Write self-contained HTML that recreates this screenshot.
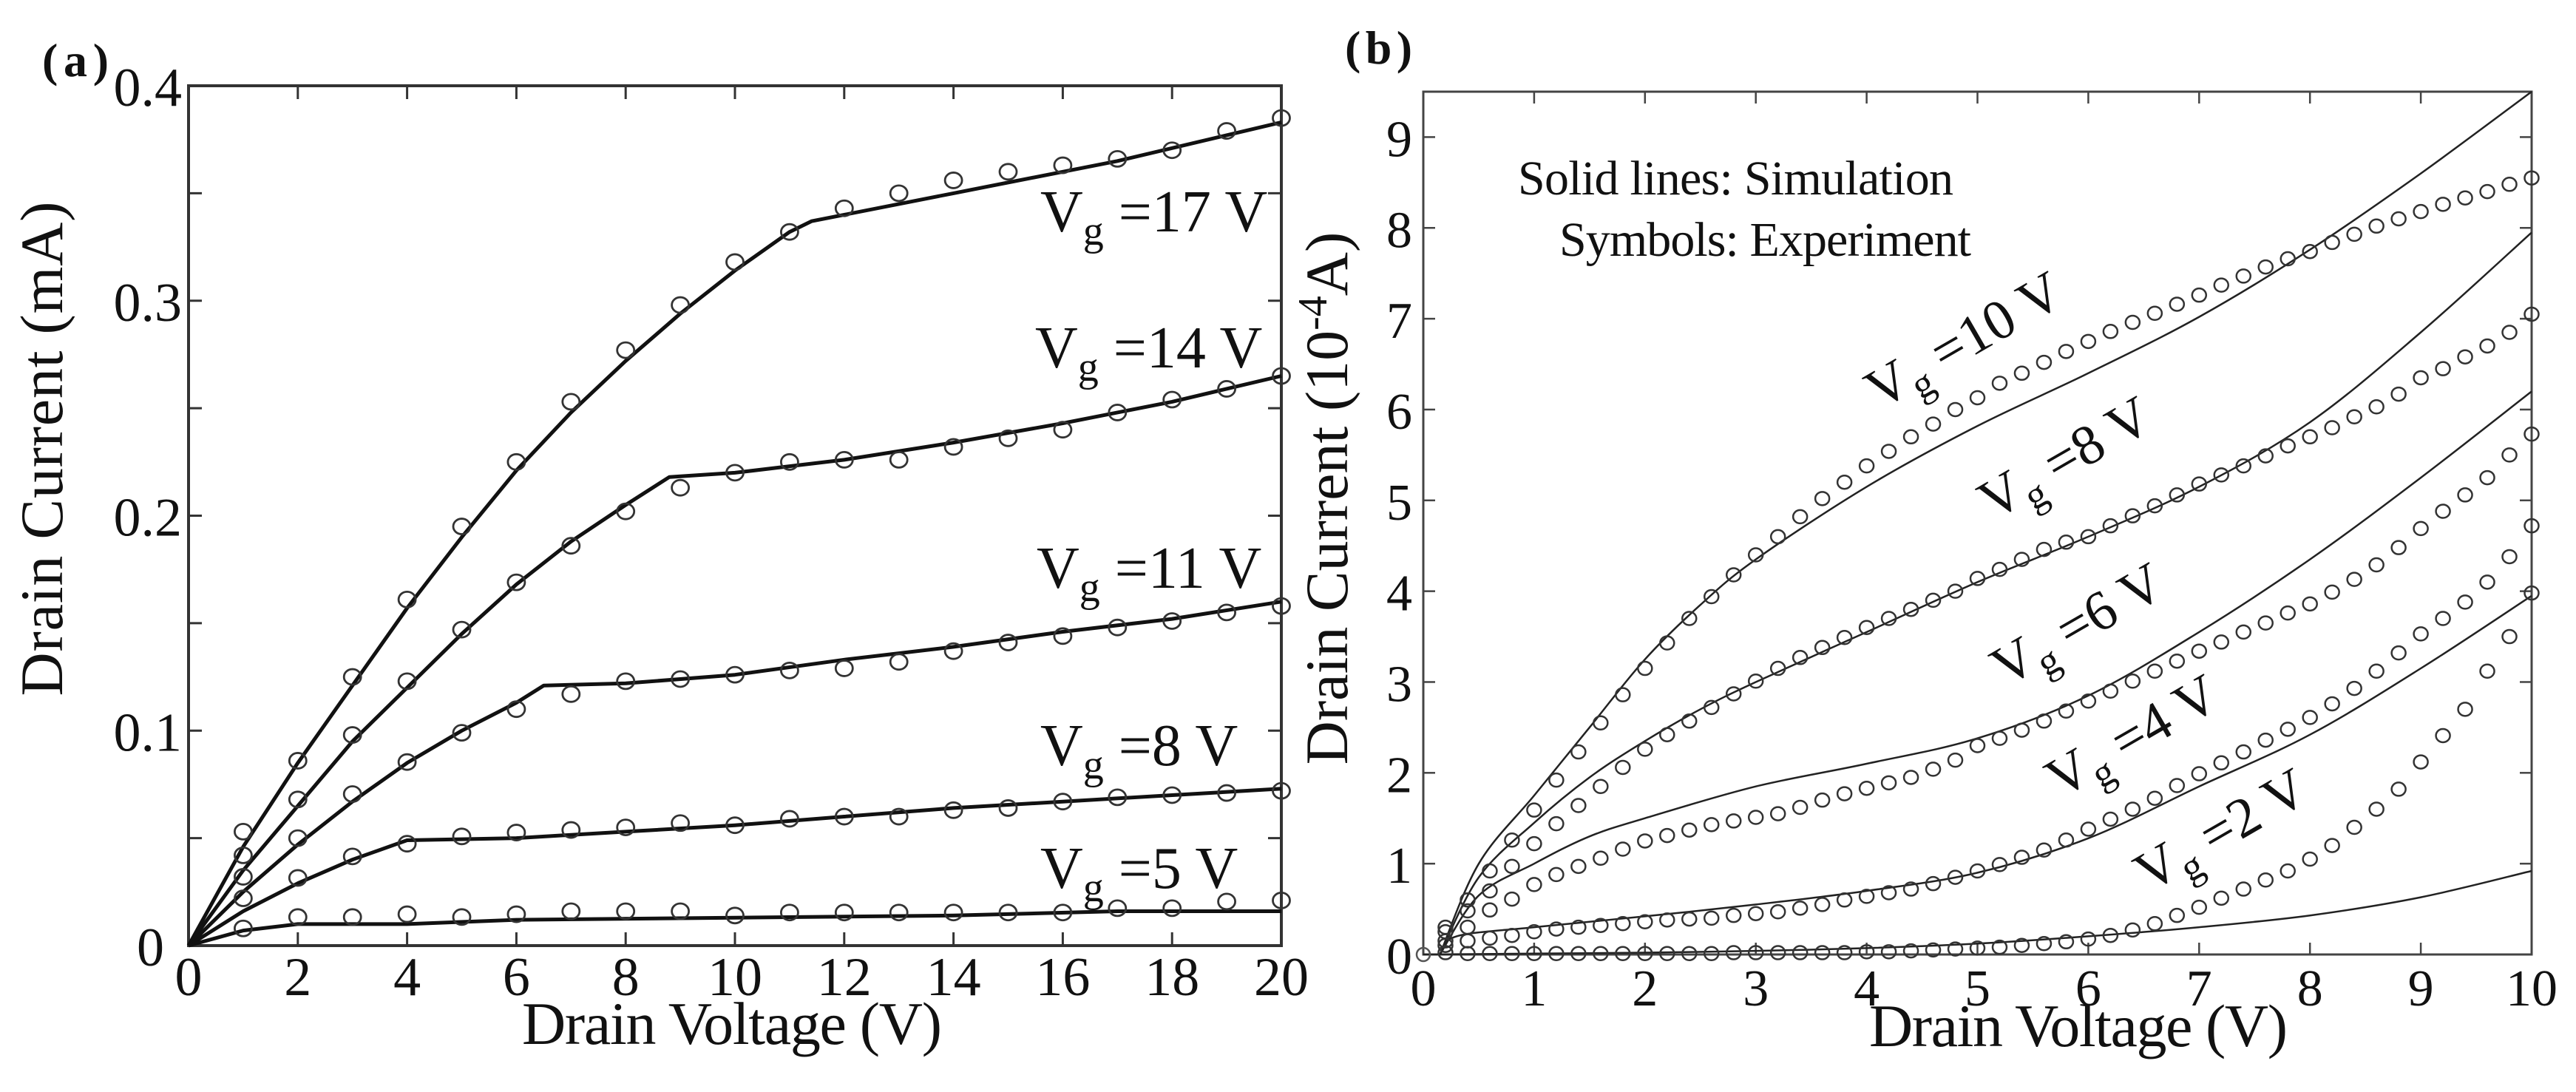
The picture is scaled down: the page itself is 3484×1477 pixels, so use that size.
<!DOCTYPE html>
<html><head><meta charset="utf-8"><style>
html,body{margin:0;padding:0;background:#fff;}
svg{display:block;font-family:"Liberation Serif",serif;}
</style></head><body>
<svg id="fig" width="3484" height="1477" viewBox="0 0 3484 1477" xmlns="http://www.w3.org/2000/svg">
<rect width="3484" height="1477" fill="#fff"/>
<g id="pa"></g>
<g id="pb"></g>
</svg>
<script>
// ---------- Panel (a) data ----------
const aXTicks = [0,2,4,6,8,10,12,14,16,18,20];
const aYTicks = [0,0.1,0.2,0.3,0.4];
const aYLabels = ["0","0.1","0.2","0.3","0.4"];
const aMarkX = [1,2,3,4,5,6,7,8,9,10,11,12,13,14,15,16,17,18,19,20];
const aExp17 = [0.053,0.086,0.125,0.161,0.195,0.225,0.253,0.277,0.298,0.318,0.332,0.343,0.350,0.356,0.360,0.363,0.366,0.370,0.379,0.385];
const aExp14 = [0.042,0.068,0.098,0.123,0.147,0.169,0.186,0.202,0.213,0.220,0.225,0.226,0.226,0.232,0.236,0.240,0.248,0.254,0.259,0.265];
const aExp11 = [0.032,0.050,0.0705,0.0854,0.099,0.110,0.117,0.123,0.124,0.126,0.128,0.129,0.132,0.137,0.141,0.144,0.148,0.151,0.155,0.158];
const aExp8  = [0.022,0.0315,0.0415,0.0474,0.0508,0.0526,0.0538,0.055,0.057,0.056,0.059,0.060,0.060,0.063,0.064,0.067,0.069,0.070,0.071,0.072];
const aExp5  = [0.008,0.0133,0.0133,0.0146,0.0133,0.0146,0.016,0.016,0.016,0.014,0.0154,0.0154,0.0154,0.0154,0.0154,0.0154,0.0174,0.0174,0.0205,0.021];
const aSimX17 = [0,1,2,3,4,5,6,7,8,9,10,11,11.4,14,17,20];
const aSim17  = [0,0.046,0.085,0.121,0.157,0.19,0.221,0.248,0.272,0.294,0.314,0.332,0.337,0.350,0.365,0.383];
const aSimX14 = [0,1,2,3,4,5,6,7,8,8.8,10,12,14,16,18,20];
const aSim14  = [0,0.035,0.065,0.095,0.12,0.145,0.168,0.188,0.205,0.218,0.220,0.226,0.234,0.243,0.253,0.265];
const aSimX11 = [0,1,2,3,4,5,6,6.5,8,10,12,14,16,18,20];
const aSim11  = [0,0.025,0.047,0.067,0.085,0.100,0.113,0.121,0.122,0.126,0.133,0.139,0.146,0.152,0.160];
const aSimX8 = [0,1,2,3,4,6,8,10,12,14,16,18,20];
const aSim8  = [0,0.016,0.029,0.040,0.049,0.050,0.053,0.056,0.060,0.064,0.067,0.070,0.073];
const aSimX5 = [0,1,2,4,6,10,14,17,20];
const aSim5  = [0,0.007,0.010,0.010,0.012,0.013,0.014,0.016,0.016];

// ---------- Panel (b) data ----------
const bXTicks = [0,1,2,3,4,5,6,7,8,9,10];
const bYTicks = [0,1,2,3,4,5,6,7,8,9];
const bMarkX = [0.2,0.4,0.6,0.8,1,1.2,1.4,1.6,1.8,2,2.2,2.4,2.6,2.8,3,3.2,3.4,3.6,3.8,4,4.2,4.4,4.6,4.8,5,5.2,5.4,5.6,5.8,6,6.2,6.4,6.6,6.8,7,7.2,7.4,7.6,7.8,8,8.2,8.4,8.6,8.8,9,9.2,9.4,9.6,9.8,10];
const bExp10 = [0.3,0.6,0.92,1.26,1.59,1.92,2.23,2.55,2.86,3.15,3.43,3.7,3.94,4.18,4.4,4.6,4.82,5.02,5.2,5.38,5.54,5.7,5.84,6.0,6.13,6.29,6.4,6.52,6.64,6.75,6.86,6.96,7.06,7.16,7.26,7.37,7.47,7.57,7.66,7.74,7.84,7.93,8.02,8.1,8.18,8.26,8.33,8.4,8.48,8.55];
const bExp8  = [0.25,0.48,0.7,0.97,1.22,1.44,1.64,1.85,2.06,2.26,2.42,2.57,2.72,2.87,3.01,3.15,3.27,3.38,3.49,3.6,3.7,3.8,3.9,4.0,4.14,4.24,4.35,4.46,4.54,4.6,4.72,4.83,4.94,5.06,5.18,5.28,5.38,5.49,5.6,5.7,5.8,5.92,6.03,6.17,6.35,6.45,6.58,6.7,6.85,7.05];
const bExp6  = [0.15,0.3,0.49,0.61,0.77,0.88,0.97,1.06,1.16,1.25,1.31,1.37,1.43,1.47,1.51,1.55,1.62,1.7,1.77,1.83,1.89,1.95,2.04,2.14,2.3,2.38,2.47,2.57,2.68,2.79,2.9,3.01,3.12,3.23,3.34,3.44,3.55,3.65,3.76,3.86,3.99,4.13,4.29,4.48,4.69,4.88,5.06,5.25,5.5,5.73];
const bExp4  = [0.1,0.15,0.18,0.21,0.25,0.28,0.3,0.32,0.34,0.36,0.38,0.39,0.4,0.43,0.45,0.47,0.51,0.55,0.6,0.64,0.68,0.72,0.78,0.85,0.92,0.99,1.07,1.15,1.26,1.38,1.49,1.6,1.72,1.86,1.99,2.11,2.23,2.36,2.48,2.61,2.76,2.93,3.12,3.32,3.53,3.7,3.88,4.1,4.38,4.72];
const bExp2  = [0.02,0.01,0.01,0.01,0.01,0.01,0.01,0.01,0.01,0.01,0.01,0.01,0.01,0.02,0.02,0.02,0.02,0.02,0.02,0.03,0.03,0.04,0.05,0.06,0.07,0.08,0.1,0.12,0.14,0.17,0.21,0.27,0.34,0.43,0.52,0.62,0.72,0.82,0.92,1.05,1.2,1.4,1.6,1.82,2.12,2.41,2.7,3.12,3.5,3.98];
const bSimX10 = [0.15,0.5,1,1.5,2,2.5,3,4,5,6,7,8,9,10];
const bSim10  = [0,1.0,1.75,2.5,3.25,3.85,4.35,5.15,5.82,6.4,7.02,7.76,8.6,9.5];
const bSimX8 = [0.15,0.5,1,1.5,2,2.5,3,4,5,6,7,8,9,10];
const bSim8  = [0,0.85,1.45,1.95,2.35,2.7,3.0,3.55,4.1,4.6,5.15,5.86,6.85,7.95];
const bSimX6 = [0.15,0.5,1,1.5,2,3,4,5,6,7,8,9,10];
const bSim6  = [0,0.65,1.0,1.3,1.5,1.85,2.1,2.38,2.85,3.55,4.35,5.25,6.2];
const bSimX4 = [0.15,0.3,1,2,3,4,5,6,7,8,9,10];
const bSim4  = [0,0.2,0.3,0.42,0.55,0.7,0.9,1.28,1.85,2.42,3.15,3.95];
const bSimX2 = [0,1,2,3,4,5,6,7,8,9,10];
const bSim2  = [0,0.01,0.02,0.04,0.07,0.12,0.2,0.3,0.43,0.63,0.92];

const NS = "http://www.w3.org/2000/svg";
function mk(tag, attrs, parent){ const e=document.createElementNS(NS,tag); for(const k in attrs) e.setAttribute(k,attrs[k]); parent.appendChild(e); return e; }

// axis functions
const aL=255,aR=1733,aT=116,aB=1279;
const axA = v => aL + (v/20)*(aR-aL);
const ayA = v => aB - (v/0.4)*(aB-aT);
const bL=1925,bR=3424,bT=124,bB=1291;
const axB = v => bL + (v/10)*(bR-bL);
const ayB = v => bB - (v/9.5)*(bB-bT);

function smoothPath(pts){
  let d = "M"+pts[0][0].toFixed(1)+","+pts[0][1].toFixed(1);
  for(let i=0;i<pts.length-1;i++){
    const p0=pts[Math.max(0,i-1)],p1=pts[i],p2=pts[i+1],p3=pts[Math.min(pts.length-1,i+2)];
    const c1=[p1[0]+(p2[0]-p0[0])/6,p1[1]+(p2[1]-p0[1])/6];
    const c2=[p2[0]-(p3[0]-p1[0])/6,p2[1]-(p3[1]-p1[1])/6];
    d+=" C"+c1[0].toFixed(1)+","+c1[1].toFixed(1)+" "+c2[0].toFixed(1)+","+c2[1].toFixed(1)+" "+p2[0].toFixed(1)+","+p2[1].toFixed(1);
  }
  return d;
}

// ===== Panel A =====
const pa=document.getElementById('pa');
let fr=mk('rect',{x:aL,y:aT,width:aR-aL,height:aB-aT,fill:'none',stroke:'#333','stroke-width':4},pa);


aXTicks.forEach(t=>{
  const x=axA(t);
  mk('line',{x1:x,y1:aB,x2:x,y2:aB-18,stroke:'#333','stroke-width':3},pa);
  mk('line',{x1:x,y1:aT,x2:x,y2:aT+18,stroke:'#333','stroke-width':3},pa);
  const tx=mk('text',{x:x,y:1346,'font-size':74,'text-anchor':'middle',fill:'#111'},pa);
  tx.textContent=String(t);
  
  
});
for(let v=0.05;v<0.4;v+=0.05){
  const y=ayA(v);
  mk('line',{x1:aL,y1:y,x2:aL+18,y2:y,stroke:'#333','stroke-width':3},pa);
  mk('line',{x1:aR,y1:y,x2:aR-18,y2:y,stroke:'#333','stroke-width':3},pa);
}
aYTicks.forEach((t,i)=>{
  const tx=mk('text',{x:(t===0?222:246),y:ayA(t)+27,'font-size':74,'text-anchor':'end',fill:'#111'},pa);
  tx.textContent=aYLabels[i];
  
  
});
const aSims=[[aSimX17,aSim17,'17'],[aSimX14,aSim14,'14'],[aSimX11,aSim11,'11'],[aSimX8,aSim8,'8'],[aSimX5,aSim5,'5']];
aSims.forEach(s=>{
  const pts=s[0].map((x,i)=>axA(x).toFixed(1)+","+ayA(s[1][i]).toFixed(1)).join(" ");
  const pl=mk('polyline',{points:pts,fill:'none',stroke:'#111','stroke-width':5,'stroke-linejoin':'round'},pa);
  
  
});
[[aExp17,'17'],[aExp14,'14'],[aExp11,'11'],[aExp8,'8'],[aExp5,'5']].forEach(s=>{
  s[0].forEach((v,i)=>{
    const c=mk('ellipse',{cx:axA(aMarkX[i]),cy:ayA(v),rx:11.5,ry:10.5,fill:'none',stroke:'#333','stroke-width':2.8},pa);
    
    
  });
});
// labels panel A
[['17',1407,313,300],['14',1400,497,305],['11',1402,795,303],['8',1407,1035,259],['5',1407,1201,259]].forEach(l=>{
  const t=mk('text',{x:l[1],y:l[2],'font-size':80,fill:'#111'},pa);
  
  
  const s1=mk('tspan',{},t); s1.textContent='V';
  const s2=mk('tspan',{'font-size':56,dy:18},t); s2.textContent='g';
  const s3=mk('tspan',{dy:-18},t); s3.textContent=' =' + l[0] + ' V';
});
let ta=mk('text',{x:990,y:1412,'font-size':82,'text-anchor':'middle',fill:'#111',textLength:568},pa);
ta.textContent='Drain Voltage (V)';


ta=mk('text',{x:0,y:0,'font-size':82,'text-anchor':'middle',fill:'#111',textLength:669,transform:'translate(84,607) rotate(-90)'},pa);
ta.textContent='Drain Current (mA)';


ta=mk('text',{x:57,y:103,'font-size':64,'font-weight':'bold',fill:'#111',textLength:90},pa);
ta.textContent='(a)';



// ===== Panel B =====
const pb=document.getElementById('pb');
fr=mk('rect',{x:bL,y:bT,width:bR-bL,height:bB-bT,fill:'none',stroke:'#444','stroke-width':3},pb);


bXTicks.forEach(t=>{
  const x=axB(t);
  mk('line',{x1:x,y1:bB,x2:x,y2:bB-16,stroke:'#444','stroke-width':2.5},pb);
  mk('line',{x1:x,y1:bT,x2:x,y2:bT+16,stroke:'#444','stroke-width':2.5},pb);
  const tx=mk('text',{x:x,y:1360,'font-size':70,'text-anchor':'middle',fill:'#111'},pb);
  tx.textContent=String(t);
  
  
});
bYTicks.forEach(t=>{
  const y=ayB(t);
  mk('line',{x1:bL,y1:y,x2:bL+16,y2:y,stroke:'#444','stroke-width':2.5},pb);
  mk('line',{x1:bR,y1:y,x2:bR-16,y2:y,stroke:'#444','stroke-width':2.5},pb);
  const tx=mk('text',{x:1910,y:y+26,'font-size':70,'text-anchor':'end',fill:'#111'},pb);
  tx.textContent=String(t);
  
  
});
[[bSimX10,bSim10,'10'],[bSimX8,bSim8,'8'],[bSimX6,bSim6,'6'],[bSimX4,bSim4,'4'],[bSimX2,bSim2,'2']].forEach(s=>{
  const pts=s[0].map((x,i)=>[axB(x),ayB(s[1][i])]);
  const p=mk('path',{d:smoothPath(pts),fill:'none',stroke:'#222','stroke-width':2.5},pb);
  
  
});
let c0=mk('circle',{cx:axB(0),cy:ayB(0),r:9,fill:'none',stroke:'#555','stroke-width':2.5},pb);


[[bExp10,'10'],[bExp8,'8'],[bExp6,'6'],[bExp4,'4'],[bExp2,'2']].forEach(s=>{
  s[0].forEach((v,i)=>{
    const c=mk('ellipse',{cx:axB(bMarkX[i]),cy:ayB(v),rx:9.5,ry:9,fill:'none',stroke:'#333','stroke-width':2.5},pb);
    
    
  });
});
[['10',2542,555,290],['8',2695,705,263],['6',2712,930,263],['4',2786,1081,263],['2',2906,1208,263]].forEach(l=>{
  const t=mk('text',{x:0,y:0,'font-size':76,fill:'#111',transform:'translate('+l[1]+','+l[2]+') rotate(-30)'},pb);
  
  
  const s1=mk('tspan',{},t); s1.textContent='V';
  const s2=mk('tspan',{'font-size':54,dy:16},t); s2.textContent='g';
  const s3=mk('tspan',{dy:-16},t); s3.textContent=' =' + l[0] + ' V';
});
let tb=mk('text',{x:2053,y:263,'font-size':66,fill:'#111',textLength:589},pb);
tb.textContent='Solid lines: Simulation';


tb=mk('text',{x:2109,y:346,'font-size':66,fill:'#111',textLength:557},pb);
tb.textContent='Symbols: Experiment';


tb=mk('text',{x:2811,y:1415,'font-size':82,'text-anchor':'middle',fill:'#111',textLength:566},pb);
tb.textContent='Drain Voltage (V)';


tb=mk('text',{x:0,y:0,'font-size':82,'text-anchor':'middle',fill:'#111',transform:'translate(1822,674) rotate(-90)'},pb);


let t1=mk('tspan',{},tb); t1.textContent='Drain Current (10';
let t2=mk('tspan',{'font-size':56,dy:-28},tb); t2.textContent='-4';
let t3=mk('tspan',{dy:28},tb); t3.textContent='A)';
tb=mk('text',{x:1819,y:86,'font-size':64,'font-weight':'bold',fill:'#111',textLength:91},pb);
tb.textContent='(b)';


</script>
</body></html>
